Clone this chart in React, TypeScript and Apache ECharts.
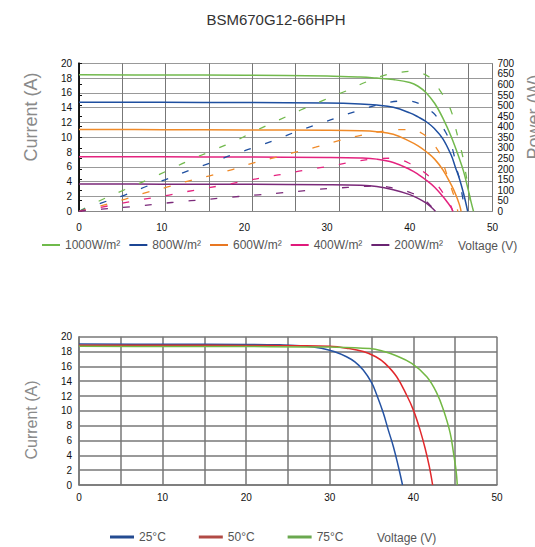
import React, { useEffect, useRef } from "react";
import * as echarts from "echarts";

const FONT = '"Liberation Sans", Arial, sans-serif';

const titleText = "BSM670G12-66HPH";
const irrNames = ["1000W/m²", "800W/m²", "600W/m²", "400W/m²", "200W/m²"];
const irrColors = ["#72b94d", "#1f4fa0", "#f08a28", "#e4237f", "#7b2a7a"];
const irrLegendColors = ["#6fba4b", "#1b4594", "#e87722", "#e0197b", "#6a2472"];
const tempNames = ["25°C", "50°C", "75°C"];
const tempColors = ["#2553a3", "#e1282c", "#73b844"];
const tempLegendColors = ["#244b91", "#b14a45", "#6aa84f"];

// I-V curves at irradiance levels: [voltage V, current A]
const iv1000 = [[0,18.45],[10,18.42],[20,18.38],[30,18.3],[34,18.15],[36,18.0],[38,17.8],[40,17.4],[41,16.9],[42,16.0],[43,14.6],[44,12.6],[45,10.1],[46,7.1],[46.5,5.4],[47,3.2],[47.4,1.3],[47.7,0]];
const iv800 = [[0,14.75],[10,14.72],[20,14.7],[30,14.62],[34,14.5],[36,14.35],[38,14.05],[40,13.3],[41,12.75],[42,12.1],[43,11.15],[44,9.8],[45,7.6],[45.5,6.0],[46,4.4],[46.5,2.4],[47,0]];
const iv600 = [[0,11.05],[10,11.03],[20,11.0],[30,10.95],[34,10.88],[36,10.75],[38,10.4],[40,9.45],[41,8.85],[42,8.05],[43,7.05],[44,5.6],[45,3.6],[45.5,2.4],[46,0.9],[46.2,0]];
const iv400 = [[0,7.38],[10,7.36],[20,7.34],[30,7.28],[34,7.2],[36,7.05],[38,6.6],[40,5.65],[41,5.0],[42,4.2],[43,3.25],[44,2.0],[44.5,1.3],[45,0.5],[45.2,0]];
const iv200 = [[0,3.68],[10,3.67],[20,3.65],[30,3.6],[34,3.52],[36,3.35],[38,2.9],[40,2.25],[41,1.75],[42,1.1],[42.6,0.55],[43.1,0]];

// P-V curves at irradiance levels: [voltage V, power W]
const pv1000 = [[0,0],[2.5,50],[5.5,102],[8.2,147],[10.8,194],[13.4,242],[16.3,290],[19.1,337],[21.5,384],[24.2,432],[26.8,479],[29.6,526],[32.3,569],[34.8,613],[37.3,647],[39,658],[40.3,662],[41.5,652],[42.3,636],[43.1,605],[43.7,568],[44.4,526],[45.1,463],[45.5,400],[45.9,337],[46.4,260],[46.7,195],[47.05,116],[47.3,53],[47.5,0]];
const pv800 = [[0,0],[2.75,40],[5.6,78],[8.3,120],[10.8,155],[13.4,195],[16.2,233],[18.7,270],[21.3,303],[23.9,340],[26.5,380],[29.2,416],[31.8,451],[34.4,484],[37.3,514],[39.7,522],[41.2,508],[42.5,476],[43.1,455],[43.7,416],[44.3,376],[44.8,337],[45.3,274],[45.6,211],[46.05,148],[46.3,85],[46.6,22],[46.7,0]];
const pv600 = [[0,0],[2.75,27],[5.6,58],[8.1,88],[10.6,114],[13.2,143],[15.8,168],[18.3,195],[20.9,227],[23.4,251],[25.9,277],[28.6,303],[31.2,332],[33.7,356],[36.4,377],[38.9,386],[40.3,385],[41.5,368],[42.5,335],[43.5,282],[43.9,243],[44.3,195],[44.7,148],[45.1,101],[45.5,53],[45.8,0]];
const pv400 = [[0,0],[2.5,18],[5.2,38],[7.8,57],[10.5,74],[13,93],[15.5,110],[17.9,127],[20.7,148],[22.9,164],[25.3,180],[27.9,199],[30.4,214],[32.9,232],[35.3,246],[37.8,251],[39,242],[40,226],[41,205],[42,176],[43,140],[44,88],[44.5,58],[45,22],[45.2,0]];
const pv200 = [[0,0],[2.75,10],[5.2,18],[7.6,27],[10,37],[12.4,46],[14.7,54],[17.1,62],[19.3,70],[21.7,78],[24.1,86],[26.5,94],[29,104],[31.3,110],[33.7,116],[35.8,120],[37,117],[38,110],[39,101],[40,90],[41,72],[42,46],[42.6,23],[43.1,0]];

// I-V curves at cell temperatures: [voltage V, current A]
const iv25 = [[0,19.0],[10,18.98],[20,18.96],[24,18.9],[27,18.75],[29,18.45],[30.5,18.0],[32,17.3],[33,16.6],[34,15.5],[35,13.8],[35.6,12.2],[36.4,9.7],[37,7.4],[37.6,5.2],[38.2,2.5],[38.7,0]];
const iv50 = [[0,18.85],[10,18.84],[20,18.82],[26,18.78],[30,18.7],[32,18.45],[34,18.0],[35.5,17.3],[36.6,16.4],[38,14.6],[39.2,12.1],[40,10.1],[40.8,7.4],[41.4,4.95],[41.9,2.5],[42.3,0]];
const iv75 = [[0,18.7],[10,18.69],[20,18.67],[30,18.6],[34.8,18.4],[36.5,18.0],[37.8,17.5],[39.8,16.4],[41.6,14.6],[42.8,12.4],[43.6,10.1],[44.4,7.0],[44.8,4.3],[45.1,2.0],[45.25,0]];

const ivIrr = [iv1000, iv800, iv600, iv400, iv200];
const pvIrr = [pv1000, pv800, pv600, pv400, pv200];
const ivTemp = [iv25, iv50, iv75];

export default function App() {
  const ref = useRef<HTMLDivElement>(null);
  useEffect(() => {
    if (!ref.current) return;
    const chart = echarts.init(ref.current, null, { renderer: "svg" });
    const labelStyle = { fontFamily: FONT, fontSize: 10, color: "#111" };
    const series: any[] = [];
    ivIrr.forEach((d, i) => {
      series.push({
        name: irrNames[i], type: "line", xAxisIndex: 0, yAxisIndex: 0, data: d,
        showSymbol: false, smooth: 0.4,
        lineStyle: { color: irrColors[i], width: 1.5 }, itemStyle: { color: irrColors[i] },
      });
    });
    pvIrr.forEach((d, i) => {
      series.push({
        name: irrNames[i], type: "line", xAxisIndex: 0, yAxisIndex: 1, data: d,
        showSymbol: false, smooth: 0.4,
        lineStyle: { color: irrColors[i], width: 1.3, type: [7, 15] }, itemStyle: { color: irrColors[i] },
      });
    });
    ivTemp.forEach((d, i) => {
      series.push({
        name: tempNames[i], type: "line", xAxisIndex: 2, yAxisIndex: 2, data: d,
        showSymbol: false, smooth: 0.4,
        lineStyle: { color: tempColors[i], width: 1.5 }, itemStyle: { color: tempColors[i] },
      });
    });
    chart.setOption({
      animation: false,
      grid: [
        { left: 79, right: 42.5, top: 63.3, height: 148 },
        { left: 79, right: 38, top: 336.7, height: 148.3 },
      ],
      xAxis: [
        {
          type: "value", gridIndex: 0, min: 0, max: 50, interval: 10,
          axisLine: { lineStyle: { color: "#888", width: 1 } },
          axisTick: { show: false }, splitLine: { show: false },
          axisLabel: { ...labelStyle, margin: 11 },
        },
        {
          type: "value", gridIndex: 0, min: 0, max: 9.55, interval: 1, position: "bottom",
          axisLine: { show: false }, axisTick: { show: false }, axisLabel: { show: false },
          splitLine: { lineStyle: { color: "#777", width: 1 } },
        },
        {
          type: "value", gridIndex: 1, min: 0, max: 50, interval: 5,
          axisLine: { lineStyle: { color: "#777", width: 1.5 } },
          axisTick: { show: false },
          splitLine: { lineStyle: { color: "#777", width: 1.5 } },
          axisLabel: { ...labelStyle, margin: 7, formatter: (v: number) => (v % 10 === 0 ? String(v) : "") },
        },
      ],
      yAxis: [
        {
          type: "value", gridIndex: 0, min: 0, max: 20, interval: 2,
          axisLine: { show: true, lineStyle: { color: "#000", width: 1.5 } },
          axisTick: { show: false },
          splitLine: { lineStyle: { color: "#999", width: 1 } },
          axisLabel: { ...labelStyle, margin: 7 },
        },
        {
          type: "value", gridIndex: 0, min: 0, max: 700, interval: 50, position: "right",
          axisLine: { show: true, lineStyle: { color: "#111", width: 1.5 } },
          axisTick: { show: true, length: 3, lineStyle: { color: "#111" } },
          splitLine: { show: false },
          axisLabel: { ...labelStyle, margin: 5 },
        },
        {
          type: "value", gridIndex: 1, min: 0, max: 20, interval: 2,
          axisLine: { show: true, lineStyle: { color: "#777", width: 1.5 } },
          axisTick: { show: false },
          splitLine: { lineStyle: { color: "#777", width: 1.5 } },
          axisLabel: { ...labelStyle, margin: 7 },
        },
      ],
      legend: [
        {
          data: irrNames.map((n, i) => ({ name: n, itemStyle: { color: irrLegendColors[i] } })),
          left: 42, top: 239, padding: 0, itemGap: 9, itemWidth: 18, itemHeight: 2, icon: "rect",
          textStyle: { fontFamily: FONT, fontSize: 12, color: "#555" },
        },
        {
          data: tempNames.map((n, i) => ({ name: n, itemStyle: { color: tempLegendColors[i] } })),
          left: 110, top: 531, padding: 0, itemGap: 33, itemWidth: 24, itemHeight: 3, icon: "rect",
          textStyle: { fontFamily: FONT, fontSize: 12, color: "#555" },
        },
      ],
      graphic: [
        { type: "text", x: 276, y: 19, style: { text: titleText, font: `15px ${FONT}`, fill: "#333", textAlign: "center", textVerticalAlign: "middle" } },
        { type: "text", x: 31, y: 117, rotation: Math.PI / 2, style: { text: "Current (A)", font: `18px ${FONT}`, fill: "#8a8a8a", textAlign: "center", textVerticalAlign: "middle" } },
        { type: "text", x: 534, y: 117, rotation: Math.PI / 2, style: { text: "Power (W)", font: `18px ${FONT}`, fill: "#8a8a8a", textAlign: "center", textVerticalAlign: "middle" } },
        { type: "text", x: 31, y: 420, rotation: Math.PI / 2, style: { text: "Current (A)", font: `16px ${FONT}`, fill: "#8a8a8a", textAlign: "center", textVerticalAlign: "middle" } },
        { type: "text", x: 458, y: 246, style: { text: "Voltage (V)", font: `12px ${FONT}`, fill: "#555", textAlign: "left", textVerticalAlign: "middle" } },
        { type: "text", x: 377, y: 538, style: { text: "Voltage (V)", font: `12px ${FONT}`, fill: "#555", textAlign: "left", textVerticalAlign: "middle" } },
      ],
      series,
    });
    return () => chart.dispose();
  }, []);
  return <div ref={ref} style={{ position: "fixed", left: 0, top: 0, width: 535, height: 547, background: "#fff" }} />;
}
